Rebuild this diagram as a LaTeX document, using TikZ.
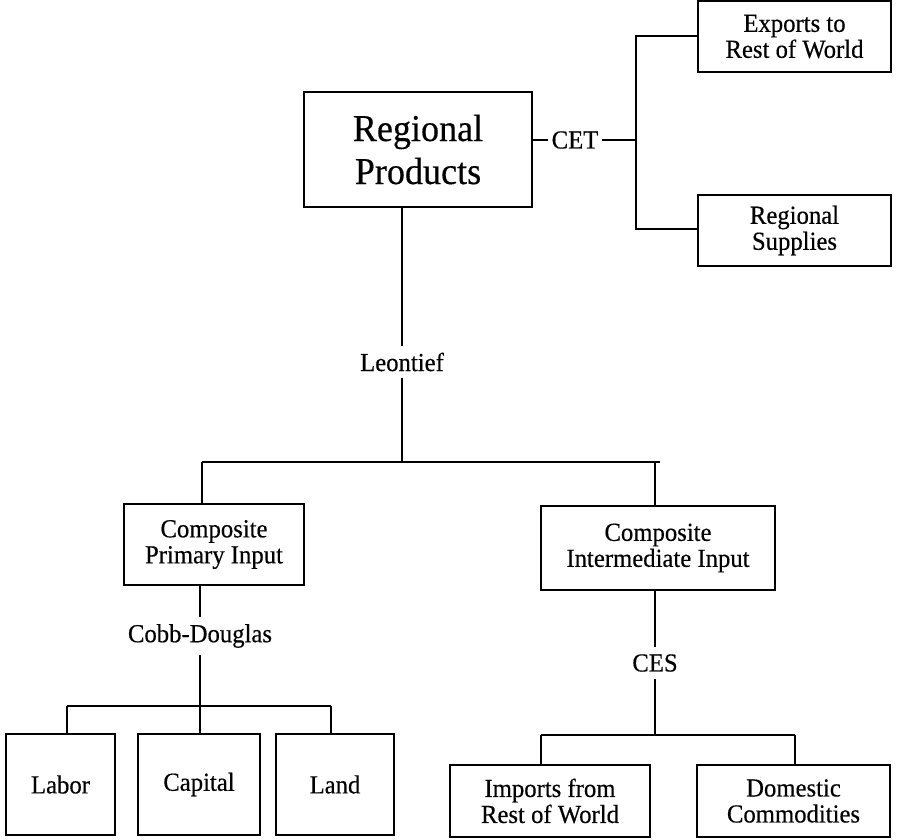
\documentclass[tikz,border=0pt]{standalone}
\usepackage{fontspec}
\setmainfont{Liberation Serif}[FakeStretch=0.95,FakeBold=0.4]
\begin{document}
\begin{tikzpicture}[x=1pt,y=-1pt,
  box/.style={draw,line width=1.7pt,align=center,inner sep=0pt,
    font=\fontsize{26}{26}\selectfont},
  bigbox/.style={box,font=\fontsize{38}{43}\selectfont},
  lab/.style={inner xsep=3pt,inner ysep=7pt,font=\fontsize{26}{26}\selectfont},
  conn/.style={line width=1.7pt}]
\useasboundingbox (0,0) rectangle (903,839);
% boxes
\node[bigbox,minimum width=228pt,minimum height=115pt] (RP) at (418,149.5) {Regional\\Products};
\node[box,minimum width=193pt,minimum height=71pt] (EX) at (794.5,36.5) {Exports to\\Rest of World};
\node[box,minimum width=193pt,minimum height=71pt] (RS) at (794.5,230.5) {Regional\\Supplies};
\node[box,minimum width=180pt,minimum height=81pt] (CPI) at (214,544.5) {Composite\\Primary Input};
\node[box,minimum width=234pt,minimum height=84pt] (CII) at (658,548) {Composite\\Intermediate Input};
\node[box,minimum width=109pt,minimum height=101pt] (LA) at (60.5,784.5) {Labor};
\node[box,minimum width=122pt,minimum height=101pt] (CA) at (199,784.5) {Capital};
\node[box,minimum width=118pt,minimum height=101pt] (LD) at (335,784.5) {Land};
\node[box,minimum width=200pt,minimum height=72pt] (IM) at (550,801) {Imports from\\Rest of World};
\node[box,minimum width=193pt,minimum height=72pt] (DO) at (793.5,801) {Domestic\\Commodities};
% labels
\node[lab] (CET) at (575,140) {CET};
\node[lab] (LEO) at (402,362) {Leontief};
\node[lab] (CD) at (200,636) {Cobb-Douglas};
\node[lab] (CES) at (655,663) {CES};
% junction coordinates
\coordinate (jt) at (636,36);
\coordinate (jb) at (636,229);
\coordinate (hL) at (202,462);
\coordinate (hR) at (660,462);
\coordinate (cdL) at (67,706);
\coordinate (cdR) at (331,706);
\coordinate (ceL) at (541,735);
\coordinate (ceR) at (795,735);
% CET branch
\draw[conn] (RP.east |- CET) -- (CET.west);
\draw[conn] (CET.east) -- (CET.east -| jt);
\draw[conn] (jt -| EX.west) -- (jt) -- (jb) -- (jb -| RS.west);
% Leontief
\draw[conn] (RP.south -| LEO) -- (LEO.north);
\draw[conn] (LEO.south) -- (LEO |- hL);
\draw[conn] (hL) -- (hR);
\draw[conn] (hL) -- (hL |- CPI.north);
\draw[conn] (655,462) -- (CII.north -| 655,0);
% Cobb-Douglas
\draw[conn] (CPI.south -| CD) -- (CD.north);
\draw[conn] (CD.south) -- (CD |- cdL);
\draw[conn] (cdL) -- (cdR);
\draw[conn] (cdL) -- (cdL |- LA.north);
\draw[conn] (CD |- cdL) -- (CD |- CA.north);
\draw[conn] (cdR) -- (cdR |- LD.north);
% CES
\draw[conn] (CII.south -| CES) -- (CES.north);
\draw[conn] (CES.south) -- (CES |- ceL);
\draw[conn] (ceL) -- (ceR);
\draw[conn] (ceL) -- (ceL |- IM.north);
\draw[conn] (ceR) -- (ceR |- DO.north);
\end{tikzpicture}
\end{document}
